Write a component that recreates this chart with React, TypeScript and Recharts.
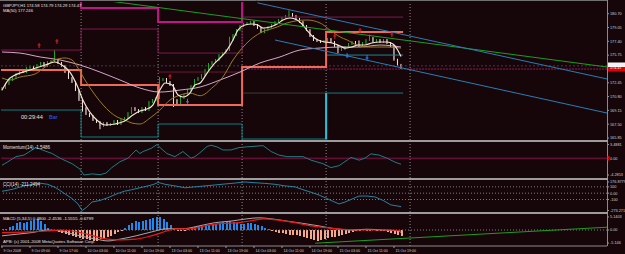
import { ComposedChart, Bar, Line, XAxis, YAxis, ReferenceLine } from 'recharts';

const BG = '#16060a';
const FONT = '"Liberation Sans", Arial, sans-serif';
const BULL = '#22a822';
const BEAR = '#f6e4e0';
const X_DOMAIN: [number, number] = [-0.286, 172.86];

// ─── price bars (H1 closes, 9 Oct 01:00 .. 15 Oct 21:00) ───
const firstOpen = 171.6;
const closes = [
  171.82, 172.3, 172.78, 173.02, 173.5, 173.97, 173.73, 174.21, 174.33, 173.97,
  174.57, 174.81, 174.45, 174.93, 175.05, 175.17, 174.81, 174.45, 173.73, 173.02,
  172.54, 171.58, 170.39, 169.43, 168.71, 168.47, 168.0, 167.76, 167.28, 167.64,
  167.4, 167.52, 167.88, 167.52, 168.0, 168.24, 168.83, 169.43, 169.19, 168.95,
  169.43, 169.19, 170.15, 170.39, 170.63, 172.78, 172.9, 172.54, 172.18, 170.39,
  169.91, 170.63, 170.98, 171.58, 172.06, 172.78, 173.02, 173.37, 173.97, 174.69,
  174.93, 175.17, 175.76, 176.0, 176.36, 177.56, 178.15, 178.75, 179.23, 179.47,
  179.59, 179.71, 179.35, 178.99, 178.51, 178.75, 179.11, 179.35, 179.71, 179.95,
  180.19, 180.42, 180.66, 180.42, 180.07, 179.71, 179.23, 178.75, 178.03, 177.56,
  177.44, 177.32, 177.44, 177.68, 177.32, 176.84, 176.36, 176.48, 176.72, 177.08,
  177.32, 177.08, 176.84, 177.2, 177.56, 177.8, 177.32, 177.56, 177.32, 177.56,
  177.2, 176.84, 175.2, 174.58, 174.47,
];
const highSpikes: [number, number][] = [[15, 176.36], [82, 181.1], [45, 173.15], [65, 177.95], [105, 178.2], [102, 177.5]];
const lowSpikes: [number, number][] = [[28, 166.9], [49, 169.55], [23, 169.0], [114, 174.1], [96, 176.0]];

const timeLabels = [
  '9 Oct 2008', '9 Oct 09:00', '9 Oct 17:00', '10 Oct 03:00', '10 Oct 11:00', '10 Oct 19:00',
  '13 Oct 03:00', '13 Oct 11:00', '13 Oct 19:00', '14 Oct 03:00', '14 Oct 11:00', '14 Oct 19:00',
  '15 Oct 03:00', '15 Oct 11:00', '15 Oct 19:00',
];
const timeTicks = timeLabels.map((_, k) => k * 8);
const dayBreaks = [22.6, 44.6, 68.6, 92.6, 116.6];

const priceTicks = [180.7, 179.05, 177.4, 175.75, 174.1, 172.45, 170.8, 169.15, 167.5, 165.85];
const momTicks = [3.4881, 0, -4.2853];
const cciTicks = [176.8779, 100, 0, -100, -273.271];
const macdTicks = [5.1403, 0, -5.146];

// ─── moving averages [bar, price] ───
const fastMa: [number, number][] = [
  [0, 171.58], [2.3, 173.02], [8, 173.97], [12.3, 174.57], [15.1, 174.93], [17.1, 174.57], [19.4, 173.73],
  [21.4, 172.18], [23.1, 170.39], [25.1, 168.95], [27.1, 168.0], [29.4, 167.4], [32.3, 167.52], [35.1, 167.88],
  [37.4, 168.59], [39.4, 169.07], [41.4, 169.31], [43.1, 169.79], [45.1, 171.58], [46.6, 172.42], [48.6, 172.18],
  [50.3, 170.98], [51.7, 170.75], [53.7, 171.22], [55.1, 172.18], [56.6, 172.42], [58.6, 173.61], [60.3, 174.57],
  [62.3, 175.41], [64.3, 176.36], [66, 177.56], [67.4, 178.75], [69.4, 179.35], [71.4, 179.47], [73.1, 179.35],
  [74.6, 178.99], [76.6, 179.11], [78.6, 179.47], [80.3, 179.95], [82.3, 180.19], [84.3, 179.95], [85.7, 179.47],
  [87.1, 178.75], [88.6, 178.03], [90.3, 177.56], [92.3, 177.32], [94.3, 177.2], [96.6, 176.84], [98, 176.6],
  [100, 176.72], [101.7, 176.96], [103.7, 176.96], [105.7, 177.2], [108, 177.32], [110, 177.32], [111.7, 177.08],
  [113, 176.4], [114, 175.6],
];
const slowMa: [number, number][] = [
  [0, 173.02], [2.3, 172.78], [5.1, 173.13], [9.4, 173.49], [12.3, 174.33], [15.1, 175.17], [18, 175.41],
  [20, 175.17], [21.7, 174.21], [23.7, 172.78], [26.6, 170.98], [28.9, 169.79], [30.9, 168.95], [32.9, 168.36],
  [35.1, 168.0], [37.1, 167.64], [39.4, 167.52], [42.3, 168.24], [45.1, 169.19], [48, 170.39], [50.9, 170.98],
  [53.7, 171.22], [56.6, 170.9], [60.3, 171.94], [63.1, 173.13], [66, 175.17], [70.9, 177.56], [73.7, 178.39],
  [78.6, 179.11], [81.4, 179.59], [87.1, 179.95], [90.9, 179.59], [93.7, 178.75], [96.6, 177.92], [98.6, 177.56],
  [101.4, 176.96], [104.3, 176.72], [107.1, 176.72], [110, 176.72], [114, 176.6],
];
const longMa: [number, number][] = [
  [0, 176.12], [5.1, 176.0], [10.9, 175.53], [16.6, 175.17], [22.3, 174.57], [28, 173.73], [33.7, 172.78],
  [39.4, 171.82], [45.1, 171.34], [50.9, 171.58], [56.6, 171.94], [62.3, 172.78], [68, 173.73], [73.7, 174.81],
  [79.4, 175.53], [85.1, 176.36], [90.9, 176.6], [96.6, 176.72], [102.3, 176.72], [108, 176.96], [114, 176.72],
];

// ─── daily levels and trendlines [bar, price] ───
const salmonStep: [number, number][] = [[-1, 173.97], [22.6, 172.18], [44.6, 169.79], [68.6, 174.33], [92.6, 178.51], [114.6, 178.51]];
const magentaStep: [number, number][] = [[-1, 183], [22.6, 181.38], [44.6, 179.71], [68.6, 183], [114.6, 183]];
const plumStep: [number, number][] = [[-1, 176.36], [22.6, 178.87], [44.6, 176.0], [68.6, 180.3], [114.6, 180.3]];
const tealStep: [number, number][] = [[-1, 169.19], [22.6, 165.97], [44.6, 167.52], [68.6, 165.73], [92.6, 171.22], [114.6, 171.22]];
const cyanRise: [number, number][] = [[92.6, 165.73], [92.6, 171.22]];
const greyLevel: [number, number][] = [[68.6, 171.22], [92.6, 171.22]];
const tealUpper: [number, number][] = [[92.6, 175.76], [114.6, 175.76]];
const maroonLevel: [number, number][] = [[44.6, 173.73], [68.6, 173.73]];
const magentaDotted: [number, number][] = [[68.6, 174.09], [172.9, 174.09]];
const blueUpper: [number, number][] = [[73, 182.0], [172.9, 172.9]];
const blueLower: [number, number][] = [[78, 177.56], [172.9, 168.83]];
const greenTrend: [number, number][] = [[31, 182.2], [172.9, 174.33]];
const fractalsUp: [number, number][] = [[10.6, 176.84], [15.7, 177.32], [48, 173.13], [95.1, 177.92], [102.3, 178.63], [111.4, 178.15]];
const fractalsDown: [number, number][] = [[53, 170.3], [98.6, 175.76], [104.3, 175.53]];

// ─── oscillators [bar, value] ───
const momentum: [number, number][] = [
  [0, -1.8], [1.7, -0.9], [4, 0.4], [6.3, 0.8], [8.6, 2.1], [9.7, 2.7], [10.9, 2.3], [14.3, 1.2], [16.6, 0],
  [20, -1.4], [22.3, -2.8], [23.4, -4.29], [25.7, -4.0], [28, -4.2], [29.7, -3.8], [31.4, -2.4], [33.7, -0.9],
  [36, 0], [38.3, 2.1], [39.4, 1.2], [40.3, 1.7], [42.6, 2.5], [44.3, 3.49], [44.9, 2.9], [47.1, 1.2], [49.4, 0.4],
  [51.7, 1.7], [54, 0], [55.1, 0.4], [56.3, 1.2], [58.6, 3.0], [59.7, 3.3], [61.4, 2.9], [63.1, 2.1], [65.4, 2.1],
  [67.7, 2.7], [70, 2.9], [74.6, 3.2], [76.9, 1.7], [79.1, 0.8], [81.4, 0.4], [86, 0.4], [88.3, -0.5], [91.7, -1.4],
  [94, -2.4], [96.3, -1.9], [98.6, -0.5], [99.7, 0.2], [102, -0.5], [103.7, 0], [105.4, 1.1], [107.7, 0.8],
  [110, 0], [112.3, -1.0], [114, -1.55],
];
const cci: [number, number][] = [
  [0, 30], [2.9, 60], [6.3, 115], [8.6, 140], [10.9, 157], [13.1, 140], [15.4, 85], [17.7, 0], [20, -85],
  [21.7, -170], [22.9, -273.27], [24, -230], [25.7, -140], [28, -115], [30.3, -70], [32.6, -15], [34.9, 30],
  [37.1, 55], [39.4, 85], [41.7, 115], [43.4, 140], [44.6, 170], [46.6, 140], [49.4, 115], [52.3, 85], [55.1, 100],
  [58, 115], [60.9, 130], [63.7, 145], [66.6, 160], [69.4, 176.88], [72.3, 165], [75.1, 155], [78, 140],
  [80.9, 115], [83.7, 100], [86, 55], [88.3, 15], [90.6, -30], [92.9, -85], [94, -115], [96.3, -170], [98, -140],
  [99.7, -100], [102, -45], [104.3, -45], [106.6, -60], [108.9, -115], [111.1, -185], [114, -211.25],
];
const macdHist = [
  0.2, 0.5, 1.0, 1.5, 2.9, 3.1, 2.9, 3.3, 3.7, 4.0, 4.2, 3.5, 2.2, 0.6, 0.1, -0.4, -0.8, -1.2, -1.7, -2.1,
  -2.3, -2.6, -3.0, -3.4, -3.6, -3.9, -4.3, -4.3, -3.7, -3.4, -2.8, -2.3, -1.5, -0.7, -0.2, 0.9, 1.8, 2.8, 3.5, 3.1,
  3.4, 4.1, 4.5, 4.8, 5.1, 5.0, 4.3, 3.2, 1.8, 0.4, -0.3, -0.4, -0.2, 0.5, 0.9, 1.2, 1.4, 1.5, 1.6, 1.9,
  2.2, 2.5, 2.9, 3.2, 3.5, 3.4, 3.0, 2.8, 2.4, 2.2, 2.6, 2.9, 2.4, 2.1, 1.6, 0.9, 0.3, -0.4, -0.7, -1.0,
  -1.3, -1.6, -1.8, -2.0, -2.1, -2.4, -2.6, -3.0, -3.4, -3.9, -4.3, -3.8, -3.5, -3.1, -2.9, -2.6, -2.3, -2.0, -1.6, -1.2,
  -0.8, -0.5, -0.3, 0.2, -0.2, -0.3, 0.2, -0.1, -0.2, -0.4, -0.6, -1.0, -1.6, -2.0, -2.4,
];
const macdSignal: [number, number][] = [
  [0, -1.0], [6.3, -0.8], [13.1, -0.4], [16.6, 0], [20, -0.4], [24.6, -1.7], [29.1, -3.4], [33.7, -3.9],
  [38.3, -3.6], [42.6, -2.3], [47.1, -0.4], [49.4, 0.5], [54, 0.5], [58.6, 1.8], [63.1, 2.6], [67.7, 2.9],
  [72.3, 3.9], [74.6, 4.4], [79.1, 3.9], [83.7, 2.9], [88.3, 1.6], [92.9, 0.9], [97.4, 0.3], [102, 0],
  [106.6, 0], [111.1, 0], [114, -0.4],
];
const macdMain: [number, number][] = [
  [0, -2.3], [4, -1.7], [8.6, -1.0], [13.1, 0], [16.6, -0.4], [22.3, -2.3], [26.9, -3.6], [30.3, -4.3],
  [33.7, -3.6], [38.3, -2.3], [42.6, -0.8], [47.1, 0.5], [51.7, 0.5], [56.3, 1.6], [60.9, 2.9], [65.4, 3.5],
  [70, 4.4], [73.4, 4.8], [76.9, 4.4], [81.4, 3.5], [86, 2.6], [90.6, 1.6], [95.1, 0.5], [99.7, 0],
  [104.3, 0.3], [108.9, 0], [113.4, -0.4], [114, -1.0],
];
const macdTrend: [number, number][] = [[89.5, -5.2], [172.9, 1.1]];

const pts = (arr: [number, number][]) => arr.map(([i, v]) => ({ i, v }));

const candles = closes.map((c, i) => {
  const o = i === 0 ? firstOpen : closes[i - 1];
  let high = Math.max(o, c) + 0.12;
  let low = Math.min(o, c) - 0.12;
  const hs = highSpikes.find((s) => s[0] === i);
  const ls = lowSpikes.find((s) => s[0] === i);
  if (hs) high = Math.max(high, hs[1]);
  if (ls) low = Math.min(low, ls[1]);
  return { i, open: o, close: c, high, low, range: [low, high] };
});
const histData = macdHist.map((h, i) => ({ i, h }));

function Candle(props: any) {
  const { x, y, width, height, payload } = props;
  if (!payload) return null;
  const top = Math.min(y, y + height);
  const h = Math.abs(height);
  const { open, close, high, low } = payload;
  const py = (v: number) => top + ((high - v) / (high - low)) * h;
  const color = close >= open ? BULL : BEAR;
  const cx = x + width / 2;
  const bTop = py(Math.max(open, close));
  const bH = Math.max(1, py(Math.min(open, close)) - bTop);
  return (
    <g>
      <line x1={cx} x2={cx} y1={top} y2={top + h} stroke={color} strokeWidth={1} />
      <rect x={x} y={bTop} width={width} height={bH} fill={color} />
    </g>
  );
}

function HistBar(props: any) {
  const { x, y, height, payload } = props;
  if (!payload) return null;
  const top = Math.min(y, y + height);
  const h = Math.max(0.5, Math.abs(height));
  return (
    <rect x={Math.round(x)} y={top} width={2} height={h} fill={payload.h >= 0 ? '#2288ee' : '#f6a98a'}
      shapeRendering="crispEdges" />
  );
}

const markUp = (p: any) => (
  <path key={`u${p.index}`} d={`M${p.cx},${p.cy - 3}V${p.cy + 2}M${p.cx - 1.5},${p.cy - 1}H${p.cx + 1.5}`} stroke="#e02020" strokeWidth={1} />
);
const markDown = (p: any) => (
  <path key={`d${p.index}`} d={`M${p.cx},${p.cy - 2}V${p.cy + 3}M${p.cx - 1.5},${p.cy + 1}H${p.cx + 1.5}`} stroke="#2a7cff" strokeWidth={1} />
);

const axisTick = { fontSize: 3.8, fill: '#d0d0d0', fontFamily: FONT };

function TimeTick(props: any) {
  const { x, y, payload } = props;
  const label = timeLabels[Math.round(payload.value / 8)];
  return (
    <g>
      <line x1={x} x2={x} y1={y} y2={y + 2} stroke="#9a9a9a" />
      <text x={x + 1.5} y={y + 5.5} fontSize={3.6} fill="#d0d0d0" fontFamily={FONT}>{label}</text>
    </g>
  );
}

const xAxis = (show = false) =>
  show ? (
    <XAxis type="number" dataKey="i" domain={X_DOMAIN} allowDataOverflow ticks={timeTicks} interval={0}
      tick={<TimeTick />} tickLine={false} tickSize={0} tickMargin={0} height={8} axisLine={{ stroke: '#8a8a8a' }} />
  ) : (
    <XAxis type="number" dataKey="i" domain={X_DOMAIN} allowDataOverflow hide />
  );

const separators = () =>
  dayBreaks.map((d) => <ReferenceLine key={d} x={d} stroke="#8c8c8c" strokeDasharray="1 2" />);

const line = (data: [number, number][], color: string, width = 1, extra: any = {}) => (
  <Line data={pts(data)} dataKey="v" type="linear" stroke={color} strokeWidth={width} dot={false}
    activeDot={false} isAnimationActive={false} {...extra} />
);

export default function App() {
  return (
    <div style={{ position: 'fixed', left: 0, top: 0, width: 625, height: 254, background: BG, overflow: 'hidden' }}>
      {/* ─── PRICE ─── */}
      <div style={{ position: 'absolute', left: 0, top: 0 }}>
        <ComposedChart width={625} height={141} data={candles} margin={{ top: 2, right: 0, bottom: 1, left: 1 }}>
          {xAxis()}
          <YAxis orientation="right" width={18} domain={[165.61, 182.1]} allowDataOverflow ticks={priceTicks}
            interval={0} tickFormatter={(v: number) => v.toFixed(2)} tick={axisTick} tickSize={2} tickMargin={1}
            tickLine={{ stroke: '#9a9a9a' }} axisLine={false} />
          {separators()}
          <ReferenceLine y={174.47} stroke="#3e3e3e" strokeDasharray="2 2" />
          {line(tealStep, '#0f7e80', 1, { type: 'stepAfter' })}
          {line(greyLevel, '#3c3c3c')}
          {line(tealUpper, '#188a96')}
          {line(cyanRise, '#1cc4d8', 2)}
          {line(plumStep, '#7e1a4e', 1, { type: 'stepAfter' })}
          {line(maroonLevel, '#6a1836')}
          {line(magentaDotted, '#a0165a', 1, { strokeDasharray: '2 1' })}
          {line(magentaStep, '#c0168a', 2, { type: 'stepAfter' })}
          {line(salmonStep, '#ef6a58', 2, { type: 'stepAfter' })}
          <Bar dataKey="range" barSize={2} shape={(p: any) => <Candle {...p} />} isAnimationActive={false} />
          {line(longMa, '#d6a6c6', 1, { type: 'monotone' })}
          {line(slowMa, '#9a7d1e', 1, { type: 'monotone' })}
          {line(fastMa, '#efe6d2', 1.2, { type: 'monotone' })}
          {line(greenTrend, '#1e9e1e')}
          {line(blueUpper, '#2a7cb4')}
          {line(blueLower, '#2a7cb4')}
          <Line data={pts(fractalsUp)} dataKey="v" stroke="none" dot={markUp} activeDot={false} isAnimationActive={false} />
          <Line data={pts(fractalsDown)} dataKey="v" stroke="none" dot={markDown} activeDot={false} isAnimationActive={false} />
        </ComposedChart>
      </div>

      {/* ─── MOMENTUM ─── */}
      <div style={{ position: 'absolute', left: 0, top: 141 }}>
        <ComposedChart width={625} height={38} data={pts(momentum)} margin={{ top: 1, right: 0, bottom: 1, left: 1 }}>
          {xAxis()}
          <YAxis orientation="right" width={18} domain={[-5.05, 4.13]} allowDataOverflow ticks={momTicks}
            interval={0} tickFormatter={(v: number) => (v === 0 ? '0.00' : String(v))} tick={axisTick}
            tickSize={2} tickMargin={1} tickLine={{ stroke: '#9a9a9a' }} axisLine={false} />
          {separators()}
          <ReferenceLine y={0} stroke="#8c0e4a" />
          <Line dataKey="v" type="linear" stroke="#1c7e82" strokeWidth={1} dot={false} activeDot={false} isAnimationActive={false} />
        </ComposedChart>
      </div>

      {/* ─── CCI ─── */}
      <div style={{ position: 'absolute', left: 0, top: 179 }}>
        <ComposedChart width={625} height={34} data={pts(cci)} margin={{ top: 1, right: 0, bottom: 1, left: 1 }}>
          {xAxis()}
          <YAxis orientation="right" width={18} domain={[-297, 208]} allowDataOverflow ticks={cciTicks}
            interval={0} tickFormatter={(v: number) => (v === 0 ? '0.00' : String(v))} tick={axisTick}
            tickSize={2} tickMargin={1} tickLine={{ stroke: '#9a9a9a' }} axisLine={false} />
          {separators()}
          <ReferenceLine y={100} stroke="#7a7a7a" strokeDasharray="1 2" />
          <ReferenceLine y={0} stroke="#7a7a7a" strokeDasharray="1 2" />
          <ReferenceLine y={-100} stroke="#7a7a7a" strokeDasharray="1 2" />
          <Line dataKey="v" type="linear" stroke="#2484a0" strokeWidth={1} dot={false} activeDot={false} isAnimationActive={false} />
        </ComposedChart>
      </div>

      {/* ─── MACD ─── */}
      <div style={{ position: 'absolute', left: 0, top: 213 }}>
        <ComposedChart width={625} height={41} data={histData} margin={{ top: 1, right: 0, bottom: 0, left: 1 }}>
          {xAxis(true)}
          <YAxis orientation="right" width={18} domain={[-6.3, 6.3]} allowDataOverflow ticks={macdTicks}
            interval={0} tickFormatter={(v: number) => (v === 0 ? '0.00' : String(v))} tick={axisTick}
            tickSize={2} tickMargin={1} tickLine={{ stroke: '#9a9a9a' }} axisLine={false} />
          {separators()}
          <ReferenceLine y={0} stroke="#7a7a7a" strokeDasharray="1 2" />
          <Bar dataKey="h" barSize={2} shape={(p: any) => <HistBar {...p} />} isAnimationActive={false} />
          {line(macdMain, '#a8a8a8', 1, { type: 'monotone' })}
          {line(macdSignal, '#e81818', 1.2, { type: 'monotone' })}
          {line(macdTrend, '#1e9e1e')}
        </ComposedChart>
      </div>

      {/* ─── frame & captions ─── */}
      <svg width={625} height={254} style={{ position: 'absolute', left: 0, top: 0, pointerEvents: 'none' }}>
        <line x1={0} x2={607} y1={0.5} y2={0.5} stroke="#707070" />
        <line x1={607.5} x2={607.5} y1={0} y2={246} stroke="#8a8a8a" />
        <rect x={0} y={140} width={608} height={2} fill="#9c9c9c" />
        <rect x={0} y={178} width={608} height={2} fill="#9c9c9c" />
        <rect x={0} y={212} width={608} height={2} fill="#9c9c9c" />
        <rect x={608} y={62.5} width={17} height={4.5} fill="#f2f2f2" />
        <rect x={608} y={67} width={17} height={4.5} fill="#e00000" />
        <text x={610} y={69} fontSize={3.8} fill="#ffffff" fontFamily={FONT}>174.47</text>
        <rect x={607.5} y={156} width={2} height={4.5} fill="#e00000" />
        <g fontFamily={FONT} fill="#e4e4e4">
          <text x={3} y={6.5} fontSize={4.2}>GBPJPY,H1  174.58 174.79 174.29 174.47</text>
          <text x={3} y={11.5} fontSize={4.2}>MA(50) 177.246</text>
          <text x={21} y={119} fontSize={5.6}>00:29:44</text>
          <text x={49} y={119} fontSize={5.6} fill="#2a60ff">Bar</text>
          <text x={3} y={148.5} fontSize={4.5}>Momentum(14) -1.5486</text>
          <text x={3} y={185.5} fontSize={4.5}>CCI(14) -211.2494</text>
          <text x={3} y={220} fontSize={4.3}>MACD (5,34,5) 0.4800 -2.4536 -1.5555 -0.6799</text>
          <text x={3} y={242.5} fontSize={4.3}>APB: (c) 2001-2008 MetaQuotes Software Corp.</text>
        </g>
      </svg>
    </div>
  );
}
